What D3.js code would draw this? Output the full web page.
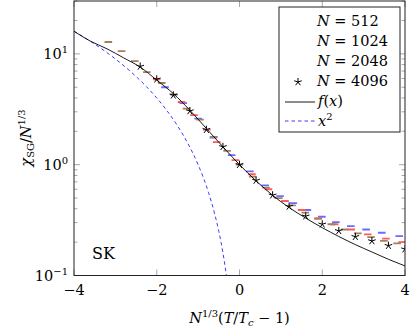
<!DOCTYPE html>
<html>
<head>
<meta charset="utf-8">
<script src="https://cdn.jsdelivr.net/npm/d3@7"></script>
<style>
  body { margin: 0; background: #fff; }
  svg { display: block; }
</style>
</head>
<body>
<svg id="chart"></svg>
<script>
// ---- data ----
var x512 = [-1.8, -1.36, -1.0, -0.63, -0.19, 0.25, 0.62, 0.98, 1.3, 1.64, 1.99, 2.33, 2.69, 3.06, 3.44, 3.86];
var y512 = [5.0, 3.6, 2.6, 1.76, 1.22, 0.87, 0.65, 0.52, 0.45, 0.39, 0.339, 0.303, 0.279, 0.26, 0.243, 0.227];

var x1024 = [-2.0, -1.4, -1.1, -0.79, -0.55, -0.1, 0.3, 0.7, 1.1, 1.5, 1.9, 2.3, 2.7, 3.1, 3.54, 3.93];
var y1024 = [5.9, 3.68, 2.8, 2.07, 1.6, 1.1, 0.82, 0.6, 0.47, 0.39, 0.33, 0.29, 0.26, 0.235, 0.215, 0.20];

var x2048 = [-3.17, -2.85, -2.53, -2.24, -1.88, -1.58, -1.28, -0.955, -0.62, -0.30, 0.0, 0.32, 0.64, 0.95, 1.27, 1.59, 1.9, 2.22, 2.54, 2.86, 3.18, 3.49, 3.81];
var y2048 = [12.8, 10.6, 8.6, 6.85, 5.46, 4.3, 3.2, 2.55, 1.78, 1.33, 1.0, 0.78, 0.62, 0.5, 0.43, 0.37, 0.325, 0.29, 0.26, 0.24, 0.222, 0.205, 0.195];

var x4096 = [-2.4, -2.0, -1.6, -1.2, -0.8, -0.4, 0.0, 0.4, 0.8, 1.2, 1.6, 2.0, 2.4, 2.8, 3.2, 3.6, 4.0];
var y4096 = [7.7, 5.9, 4.23, 3.05, 2.07, 1.45, 1.0, 0.72, 0.53, 0.42, 0.343, 0.29, 0.253, 0.224, 0.205, 0.186, 0.173];

var xF = [-4, -3.6, -3.2, -2.8, -2.4, -2.0, -1.6, -1.2, -0.8, -0.4, 0.0, 0.4, 0.8, 1.2, 1.6, 2.0, 2.4, 2.8, 3.2, 3.6, 4.0];
var yF = [16, 13.0, 11.1, 9.2, 7.6, 5.8, 4.38, 3.1, 2.12, 1.45, 1.0, 0.715, 0.53, 0.41, 0.33, 0.27, 0.225, 0.19, 0.163, 0.14, 0.122];

var xSq = [-4, -3.75, -3.5, -3.25, -3, -2.75, -2.5, -2.25, -2, -1.75, -1.5, -1.25, -1, -0.75, -0.6, -0.5, -0.4, -0.316];
var ySq = [16, 14.06, 12.25, 10.56, 9, 7.56, 6.25, 5.06, 4, 3.06, 2.25, 1.56, 1, 0.5625, 0.36, 0.25, 0.16, 0.1];

var xTicks = [-4, -2, 0, 2, 4];
var yTicks = [0.1, 1, 10];
var yExp = ["\u22121", "0", "1"];
var legendLabels = ["512", "1024", "2048", "4096"];

// ---- layout ----
var W = 415, H = 332;
var margin = {top: 1, right: 10, bottom: 56.5, left: 74};
var w = W - margin.left - margin.right;
var h = H - margin.top - margin.bottom;
var FONT = "'DejaVu Serif', serif";
var fs = "14.5px", fsSub = "10px";

var svg = d3.select("#chart").attr("width", W).attr("height", H)
  .attr("font-family", FONT);
var g = svg.append("g").attr("transform", `translate(${margin.left}, ${margin.top})`);

var x = d3.scaleLinear().domain([-4, 4]).range([0, w]);
var y = d3.scaleLog().domain([0.1, 30]).range([h, 0]);

svg.append("defs").append("clipPath").attr("id", "clip")
  .append("rect").attr("width", w).attr("height", h);

// minor + major ticks, drawn inside the frame on all four sides
var tickCol = "#a8a8a8";
var minor = [];
for (var d = 0.1; d < 30; d *= 10) {
  for (var k = 2; k <= 9; k++) if (d * k <= 30) minor.push(d * k);
}
var tk = g.append("g");
minor.forEach(function(v) {
  tk.append("line").attr("x1", 0).attr("x2", 3.5).attr("y1", y(v)).attr("y2", y(v)).attr("stroke", tickCol);
  tk.append("line").attr("x1", w).attr("x2", w - 3.5).attr("y1", y(v)).attr("y2", y(v)).attr("stroke", tickCol);
});
yTicks.forEach(function(v) {
  tk.append("line").attr("x1", 0).attr("x2", 6).attr("y1", y(v)).attr("y2", y(v)).attr("stroke", tickCol);
  tk.append("line").attr("x1", w).attr("x2", w - 6).attr("y1", y(v)).attr("y2", y(v)).attr("stroke", tickCol);
});
xTicks.forEach(function(v) {
  tk.append("line").attr("x1", x(v)).attr("x2", x(v)).attr("y1", h).attr("y2", h - 6).attr("stroke", tickCol);
  tk.append("line").attr("x1", x(v)).attr("x2", x(v)).attr("y1", 0).attr("y2", 6).attr("stroke", tickCol);
});

// x^2
var plot = g.append("g").attr("clip-path", "url(#clip)");
var line = d3.line().x(d => x(d[0])).y(d => y(d[1])).curve(d3.curveMonotoneX);
plot.append("path").datum(d3.zip(xSq, ySq)).attr("d", line)
  .attr("fill", "none").attr("stroke", "#3b3bff").attr("stroke-width", 1).attr("stroke-dasharray", "3.5,3");

// dash markers
function dashes(xs, ys, col) {
  plot.selectAll(null).data(d3.zip(xs, ys)).join("line")
    .attr("x1", d => x(d[0]) - 3.8).attr("x2", d => x(d[0]) + 3.8)
    .attr("y1", d => y(d[1])).attr("y2", d => y(d[1]))
    .attr("stroke", col).attr("stroke-width", 1.8);
}
dashes(x512, y512, "#6b6bff");
dashes(x1024, y1024, "#ff5a5a");
dashes(x2048, y2048, "#a3805f");

// f(x)
plot.append("path").datum(d3.zip(xF, yF)).attr("d", line)
  .attr("fill", "none").attr("stroke", "#000").attr("stroke-width", 0.9);

// five-armed star like pgfplots' mark=star
var r = 4;
var star = d3.range(5).map(function(i) {
  var a = -Math.PI / 2 + i * 2 * Math.PI / 5;
  return "M0,0L" + (r * Math.cos(a)).toFixed(2) + "," + (r * Math.sin(a)).toFixed(2);
}).join("");
plot.selectAll(null).data(d3.zip(x4096, y4096)).join("path")
  .attr("d", star)
  .attr("transform", d => `translate(${x(d[0])},${y(d[1])})`)
  .attr("fill", "none").attr("stroke", "#000").attr("stroke-width", 1);

// frame
g.append("rect").attr("width", w).attr("height", h)
  .attr("fill", "none").attr("stroke", "#222").attr("stroke-width", 1);

// tick labels
g.selectAll(".xl").data(xTicks).join("text")
  .attr("x", d => x(d)).attr("y", h + 19)
  .attr("text-anchor", "middle").attr("font-size", fs)
  .text(d => d < 0 ? "\u2212" + Math.abs(d) : d);

yTicks.forEach(function(v, i) {
  var t = g.append("text").attr("x", -6).attr("y", y(v) + 5)
    .attr("text-anchor", "end").attr("font-size", fs);
  t.append("tspan").text("10");
  t.append("tspan").attr("dy", -6).attr("font-size", fsSub).text(yExp[i]);
});

// axis titles
var xt = g.append("text").attr("x", x(0)).attr("y", h + 47)
  .attr("text-anchor", "middle").attr("font-size", fs);
xt.append("tspan").attr("font-style", "italic").text("N");
xt.append("tspan").attr("dy", -6).attr("font-size", fsSub).text("1/3");
xt.append("tspan").attr("dy", 6).text("(");
xt.append("tspan").attr("font-style", "italic").text("T");
xt.append("tspan").text("/");
xt.append("tspan").attr("font-style", "italic").text("T");
xt.append("tspan").attr("dy", 3).attr("font-size", fsSub).attr("font-style", "italic").text("c");
xt.append("tspan").attr("dy", -3).text(" \u2212 1)");

var yt = svg.append("text").attr("transform", "translate(31, 138) rotate(-90)")
  .attr("text-anchor", "middle").attr("font-size", fs);
yt.append("tspan").attr("font-style", "italic").text("\u03c7");
yt.append("tspan").attr("dy", 3).attr("font-size", fsSub).text("SG");
yt.append("tspan").attr("dy", -3).text("/");
yt.append("tspan").attr("font-style", "italic").text("N");
yt.append("tspan").attr("dy", -6).attr("font-size", fsSub).text("1/3");

// SK label
g.append("text").attr("x", 18).attr("y", 258).attr("font-size", "16px").text("SK");

// legend
var lg = svg.append("g").attr("transform", "translate(279, 7)");
lg.append("rect").attr("width", 121).attr("height", 125)
  .attr("fill", "#fff").attr("stroke", "#222").attr("stroke-width", 1);
legendLabels.forEach(function(n, i) {
  var t = lg.append("text").attr("x", 38).attr("y", 19 + i * 20).attr("font-size", fs);
  t.append("tspan").attr("font-style", "italic").text("N");
  t.append("tspan").text(" = " + n);
});
lg.append("path").attr("d", star).attr("transform", "translate(19, 75)")
  .attr("fill", "none").attr("stroke", "#000").attr("stroke-width", 1);
lg.append("line").attr("x1", 6).attr("x2", 36).attr("y1", 95).attr("y2", 95)
  .attr("stroke", "#000").attr("stroke-width", 0.9);
var lf = lg.append("text").attr("x", 39).attr("y", 99).attr("font-size", fs);
lf.append("tspan").attr("font-style", "italic").text("f");
lf.append("tspan").text("(");
lf.append("tspan").attr("font-style", "italic").text("x");
lf.append("tspan").text(")");
lg.append("line").attr("x1", 6).attr("x2", 36).attr("y1", 114).attr("y2", 114)
  .attr("stroke", "#3b3bff").attr("stroke-dasharray", "3.5,3");
var l2 = lg.append("text").attr("x", 39).attr("y", 119).attr("font-size", fs);
l2.append("tspan").attr("font-style", "italic").text("x");
l2.append("tspan").attr("dy", -6).attr("font-size", fsSub).text("2");
</script>
</body>
</html>
